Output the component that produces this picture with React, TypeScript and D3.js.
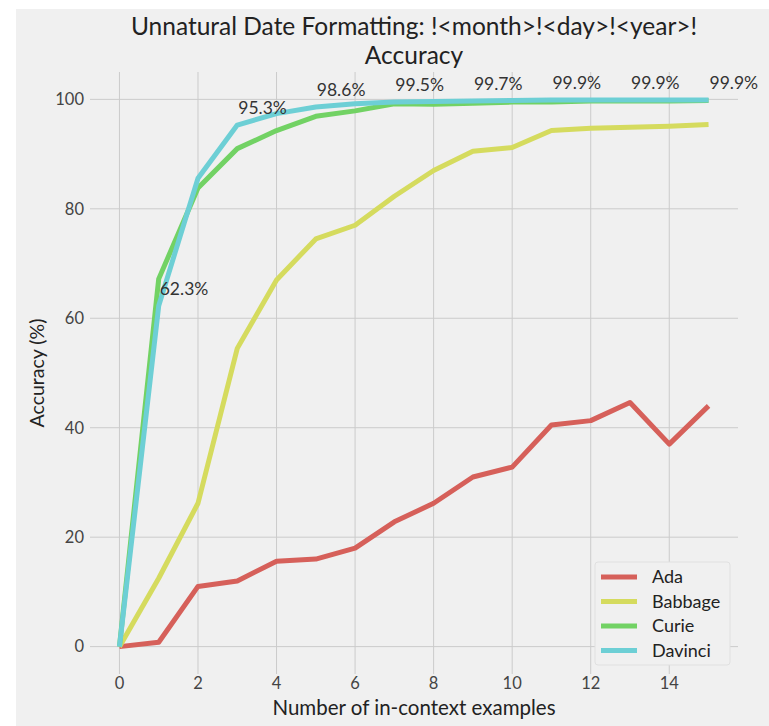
import React from "react";
import * as d3 from "d3";

const xs = [0, 1, 2, 3, 4, 5, 6, 7, 8, 9, 10, 11, 12, 13, 14, 15];
const ada = [0, 0.8, 11, 12, 15.6, 16, 18, 22.8, 26.2, 31, 32.8, 40.5, 41.3, 44.6, 37, 44];
const babbage = [0, 12.5, 26.2, 54.5, 67, 74.5, 77, 82.3, 87, 90.5, 91.2, 94.3, 94.7, 94.9, 95.1, 95.4];
const curie = [0, 67.2, 83.8, 91, 94.3, 96.9, 97.9, 99.2, 99.1, 99.3, 99.5, 99.5, 99.7, 99.7, 99.7, 99.8];
const davinci = [0, 62.3, 85.6, 95.3, 97.4, 98.6, 99.2, 99.5, 99.6, 99.7, 99.8, 99.9, 99.9, 99.9, 99.9, 99.9];
const seriesNames = ["Ada", "Babbage", "Curie", "Davinci"];
const seriesColors = ["#d6605a", "#d5db5e", "#72d264", "#6dcfd5"];
const annotIdx = [1, 3, 5, 7, 9, 11, 13, 15];
const annotText = ["62.3%", "95.3%", "98.6%", "99.5%", "99.7%", "99.9%", "99.9%", "99.9%"];
const xTicks = [0, 2, 4, 6, 8, 10, 12, 14];
const yTicks = [0, 20, 40, 60, 80, 100];

const W = 769;
const H = 726;
const L = 90, R = 738, T = 72, B = 674;
const FONT = "Lato, 'DejaVu Sans', sans-serif";

export default function App() {
  const x = d3.scaleLinear().domain([-0.75, 15.75]).range([L, R]);
  const y = d3.scaleLinear().domain([-5, 105]).range([B, T]);
  const all = [ada, babbage, curie, davinci];
  const line = d3
    .line<number>()
    .x((_, i) => x(xs[i]))
    .y((d) => y(d));

  return (
    <svg width={W} height={H} style={{ position: "absolute", left: 0, top: 0 }}>
      <rect x={0} y={0} width={W} height={H} fill="#ffffff" />
      <rect x={16} y={9} width={W - 16} height={H - 9} fill="#f0f0f0" />
      {yTicks.map((t) => (
        <line key={"gy" + t} x1={L} x2={R} y1={y(t)} y2={y(t)} stroke="#cbcbcb" strokeWidth={1} />
      ))}
      {xTicks.map((t) => (
        <line key={"gx" + t} x1={x(t)} x2={x(t)} y1={T} y2={B} stroke="#cbcbcb" strokeWidth={1} />
      ))}
      {all.map((s, i) => (
        <path
          key={seriesNames[i]}
          d={line(s) || ""}
          fill="none"
          stroke={seriesColors[i]}
          strokeWidth={5}
          strokeLinejoin="round"
        />
      ))}
      {annotIdx.map((idx, k) => (
        <text
          key={"a" + k}
          x={x(xs[idx]) + 1}
          y={y(davinci[idx]) - 11}
          fontFamily={FONT}
          fontSize={17.5}
          fill="#333333"
        >
          {annotText[k]}
        </text>
      ))}
      {yTicks.map((t) => (
        <text
          key={"yt" + t}
          x={L - 6}
          y={y(t)}
          dy="0.35em"
          textAnchor="end"
          fontFamily={FONT}
          fontSize={16.5}
          fill="#444444"
        >
          {t}
        </text>
      ))}
      {xTicks.map((t) => (
        <text
          key={"xt" + t}
          x={x(t)}
          y={B + 9}
          dy="0.35em"
          textAnchor="middle"
          fontFamily={FONT}
          fontSize={16.5}
          fill="#444444"
        >
          {t}
        </text>
      ))}
      <text
        x={(L + R) / 2}
        y={708}
        dy="0.35em"
        textAnchor="middle"
        fontFamily={FONT}
        fontSize={20.5}
        fill="#222222"
      >
        Number of in-context examples
      </text>
      <text
        transform={`translate(37,${(T + B) / 2}) rotate(-90)`}
        dy="0.35em"
        textAnchor="middle"
        fontFamily={FONT}
        fontSize={19.5}
        fill="#222222"
      >
        Accuracy (%)
      </text>
      <text x={(L + R) / 2} y={26} dy="0.35em" textAnchor="middle" fontFamily={FONT} fontSize={24.5} fill="#222222">
        Unnatural Date Formatting: !&lt;month&gt;!&lt;day&gt;!&lt;year&gt;!
      </text>
      <text x={(L + R) / 2} y={55.5} dy="0.35em" textAnchor="middle" fontFamily={FONT} fontSize={24.5} fill="#222222">
        Accuracy
      </text>
      <g>
        <rect x={595} y={562} width={135} height={103} rx={3} fill="#f0f0f0" stroke="#e0e0e0" strokeWidth={1} />
        {seriesNames.map((n, i) => (
          <g key={"lg" + n}>
            <line
              x1={601}
              x2={637}
              y1={577 + i * 24.5}
              y2={577 + i * 24.5}
              stroke={seriesColors[i]}
              strokeWidth={5}
            />
            <text
              x={652}
              y={577 + i * 24.5}
              dy="0.35em"
              fontFamily={FONT}
              fontSize={18}
              fill="#222222"
            >
              {n}
            </text>
          </g>
        ))}
      </g>
    </svg>
  );
}
